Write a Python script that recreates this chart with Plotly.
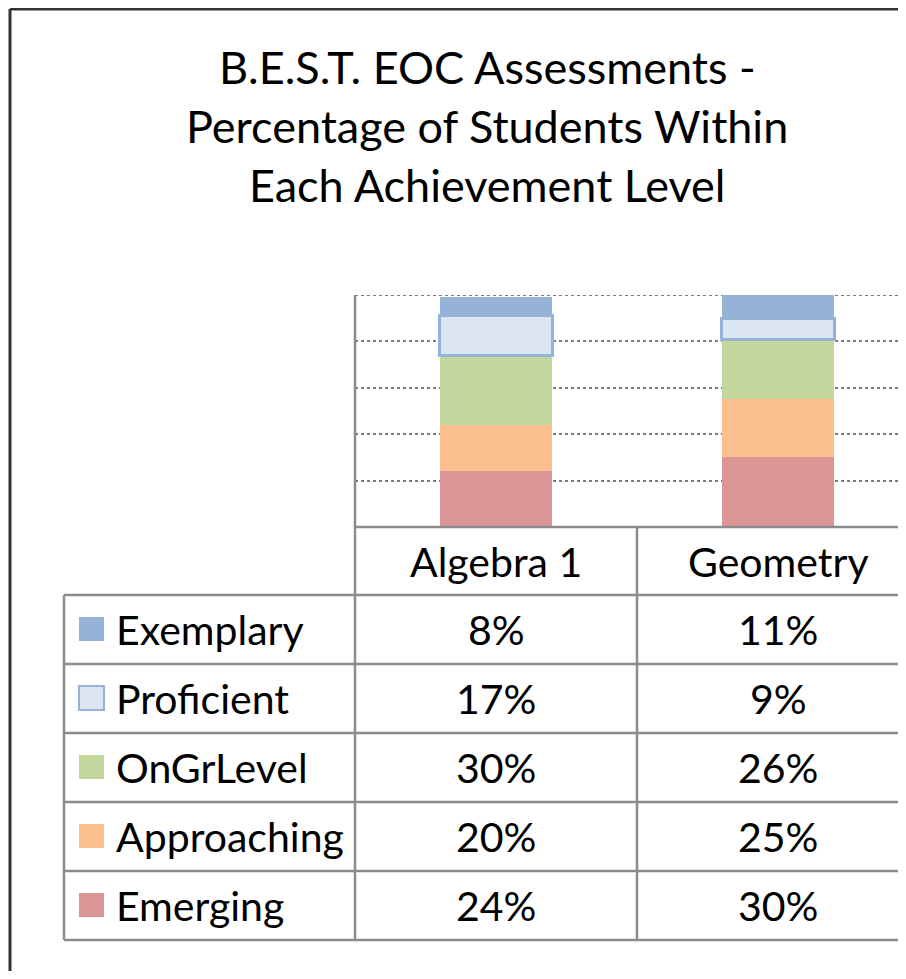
import plotly.graph_objs as go

TITLE_LINES = ["B.E.S.T. EOC Assessments -",
               "Percentage of Students Within",
               "Each Achievement Level"]
COURSES = ["Algebra 1", "Geometry"]
LEVELS = ["Exemplary", "Proficient", "OnGrLevel", "Approaching", "Emerging"]
ALGEBRA_1 = [8, 17, 30, 20, 24]
GEOMETRY = [11, 9, 26, 25, 30]
FILL = {
    "Exemplary": "#95b3d7",
    "Proficient": "#dce6f2",
    "OnGrLevel": "#c3d69b",
    "Approaching": "#fac090",
    "Emerging": "#d99694",
}

OFF = 8  # page body margin
W, H = 906 - 2 * OFF, 979 - 2 * OFF
FONT = "Lato"
GRID = "#8c8c8c"
DOTS = "#7a7a7a"


def px(x):
    # screen pixel -> paper fraction
    return (x - OFF) / W


def py(y):
    return 1 - (y - OFF) / H


fig = go.Figure()

# stacked bars, bottom level first
for i in reversed(range(len(LEVELS))):
    level = LEVELS[i]
    border = dict(color="#95b3d7", width=3) if level == "Proficient" else dict(width=0)
    fig.add_trace(go.Bar(
        x=COURSES,
        y=[ALGEBRA_1[i], GEOMETRY[i]],
        name=level,
        marker=dict(color=FILL[level], line=border),
        hoverinfo="skip",
    ))

# plot area in screen pixels
left, top, bottom = 355, 295, 527
cat_w = 282
right_edge = W + OFF
fig.update_layout(
    width=W, height=H, autosize=False,
    margin=dict(l=0, r=0, t=0, b=0),
    paper_bgcolor="white", plot_bgcolor="white",
    barmode="stack", bargap=0.6,
    showlegend=False,
    font=dict(family=FONT, color="black", size=41),
    xaxis=dict(domain=[px(left), 1], range=[-0.5, -0.5 + (right_edge - left) / cat_w],
               showticklabels=False, showgrid=False, zeroline=False, fixedrange=True),
    yaxis=dict(domain=[py(bottom), py(top)], range=[0, 100], dtick=20,
               showticklabels=False, showgrid=True, gridcolor=DOTS, griddash="dot",
               gridwidth=2, zeroline=False, fixedrange=True),
)

shapes = []
annotations = []

# top gridline at 100%
shapes.append(dict(type="line", xref="paper", yref="y", x0=px(left), x1=1, y0=100, y1=100,
                   line=dict(color=DOTS, width=2, dash="dot"), layer="below"))

# outer chart border (left and top visible)
shapes.append(dict(type="line", xref="paper", yref="paper",
                   x0=px(10), x1=px(10), y0=py(9), y1=0, line=dict(color="#333", width=3)))
shapes.append(dict(type="line", xref="paper", yref="paper",
                   x0=px(10), x1=1, y0=py(9), y1=py(9), line=dict(color="#333", width=3)))

# title
for k, line in enumerate(TITLE_LINES):
    annotations.append(dict(text=line, xref="paper", yref="paper",
                            x=px(487), y=py(67 + 59 * k), xanchor="center", yanchor="middle",
                            showarrow=False, font=dict(size=45)))

# data table grid
tline = dict(color=GRID, width=2.5)
row_h = 69
header_top = bottom
first_row = header_top + 68
table_bottom = first_row + row_h * len(LEVELS)
shapes.append(dict(type="line", xref="paper", yref="paper", x0=px(left), x1=px(left),
                   y0=py(top), y1=py(table_bottom), line=tline))
shapes.append(dict(type="line", xref="paper", yref="paper", x0=px(left), x1=1,
                   y0=py(header_top), y1=py(header_top), line=tline))
shapes.append(dict(type="line", xref="paper", yref="paper", x0=px(left + cat_w), x1=px(left + cat_w),
                   y0=py(header_top), y1=py(table_bottom), line=tline))
shapes.append(dict(type="line", xref="paper", yref="paper", x0=px(64), x1=px(64),
                   y0=py(first_row), y1=py(table_bottom), line=tline))
for r in range(len(LEVELS) + 1):
    yy = first_row + row_h * r
    shapes.append(dict(type="line", xref="paper", yref="paper", x0=px(64), x1=1,
                       y0=py(yy), y1=py(yy), line=tline))

# header labels
for c in COURSES:
    annotations.append(dict(text=c, xref="x", yref="paper", x=c, y=py(header_top + 34),
                            xanchor="center", yanchor="middle", showarrow=False))

# rows: legend key, name, values
for i, level in enumerate(LEVELS):
    cy = first_row + row_h * i + 34
    key_line = dict(color="#95b3d7", width=2) if level == "Proficient" else dict(width=0)
    shapes.append(dict(type="rect", xref="paper", yref="paper",
                       x0=px(79), x1=px(104), y0=py(cy - 12), y1=py(cy + 12),
                       fillcolor=FILL[level], line=key_line))
    annotations.append(dict(text=level, xref="paper", yref="paper", x=px(114), y=py(cy),
                            xanchor="left", yanchor="middle", showarrow=False))
    for c, vals in zip(COURSES, [ALGEBRA_1, GEOMETRY]):
        annotations.append(dict(text=f"{vals[i]}%", xref="x", yref="paper", x=c, y=py(cy),
                                xanchor="center", yanchor="middle", showarrow=False))

fig.update_layout(shapes=shapes, annotations=annotations)
fig.write_html("out.html")
